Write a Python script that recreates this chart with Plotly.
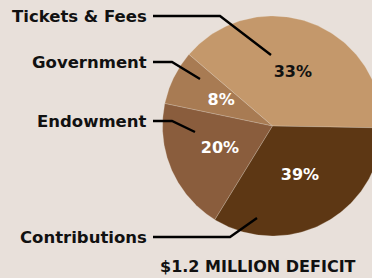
import numpy as np
import plotly.graph_objects as go

# ---- data ----
categories = ["Tickets & Fees", "Government", "Endowment", "Contributions"]
slice_shares = [39, 8, 19.5, 33.5]          # visual slice sizes
slice_labels = ["33%", "8%", "20%", "39%"]  # printed percentages
title_text = "$1.2 MILLION DEFICIT"

# ---- styles / layout ----
colors = ["#C4986B", "#A87B53", "#8A5D3D", "#5D3714"]
label_colors = ["#111111", "#FFFFFF", "#FFFFFF", "#FFFFFF"]
bg = "#E8E0DA"
W, H = 372, 278
CX, CY, R = 272.5, 126, 110          # pie centre / radius in window pixels
START_DEG = -1.0                     # counter-clockwise from 3 o'clock
LABEL_RF = 0.52
FONT = "DejaVu Sans"

# callout layout: (text anchor y, elbow x, inner end x, inner end y)
callouts = [
    (16, 220, 271, 55),
    (62, 172, 200, 79),
    (121, 172, 195, 132),
    (237, 230, 257, 218),
]
LINE_X0 = 153
TEXT_RIGHT = 149

fig = go.Figure()

shares = np.array(slice_shares, dtype=float)
fr = shares / shares.sum()
edges = START_DEG + 360 * np.concatenate([[0], np.cumsum(fr)])

for i, cat in enumerate(categories):
    a0, a1 = edges[i], edges[i + 1]
    t = np.radians(np.linspace(a0, a1, 120))
    xs = np.concatenate([[CX], CX + R * np.cos(t), [CX]])
    ys = np.concatenate([[CY], CY - R * np.sin(t), [CY]])
    fig.add_trace(go.Scatter(
        x=xs, y=ys, mode="lines", fill="toself", fillcolor=colors[i],
        line=dict(color="rgba(235,225,215,0.35)", width=0.7),
        hoverinfo="text", text=cat, showlegend=False))

# percentage labels
mids = np.radians((edges[:-1] + edges[1:]) / 2)
for i in range(len(categories)):
    fig.add_trace(go.Scatter(
        x=[CX + LABEL_RF * R * np.cos(mids[i])],
        y=[CY - LABEL_RF * R * np.sin(mids[i])],
        mode="text", text=[slice_labels[i]],
        textfont=dict(family=FONT, size=16, color=label_colors[i], weight=700),
        hoverinfo="skip", showlegend=False))

# callouts
for i, cat in enumerate(categories):
    ty, ex, ix, iy = callouts[i]
    fig.add_trace(go.Scatter(
        x=[LINE_X0, ex, ix], y=[ty, ty, iy], mode="lines",
        line=dict(color="#000000", width=2.4),
        hoverinfo="skip", showlegend=False))
    fig.add_annotation(
        x=TEXT_RIGHT, y=ty, xref="x", yref="y", text=cat, showarrow=False,
        xanchor="right", yanchor="middle",
        font=dict(family=FONT, size=16.5, color="#111111", weight=700))

fig.add_annotation(
    x=258, y=266, xref="x", yref="y", text=title_text, showarrow=False,
    xanchor="center", yanchor="middle",
    font=dict(family=FONT, size=16, color="#111111", weight=700))

fig.update_layout(
    width=W, height=H, margin=dict(l=0, r=0, t=0, b=0),
    paper_bgcolor=bg, plot_bgcolor=bg,
    xaxis=dict(range=[0, W], visible=False, fixedrange=True),
    yaxis=dict(range=[H, 0], visible=False, fixedrange=True),
)

fig.write_html(
    "out.html",
    config={"displayModeBar": False},
    post_script="document.body.style.margin='0';"
                "document.body.style.background='%s';"
                "document.body.style.overflow='hidden';" % bg,
)
